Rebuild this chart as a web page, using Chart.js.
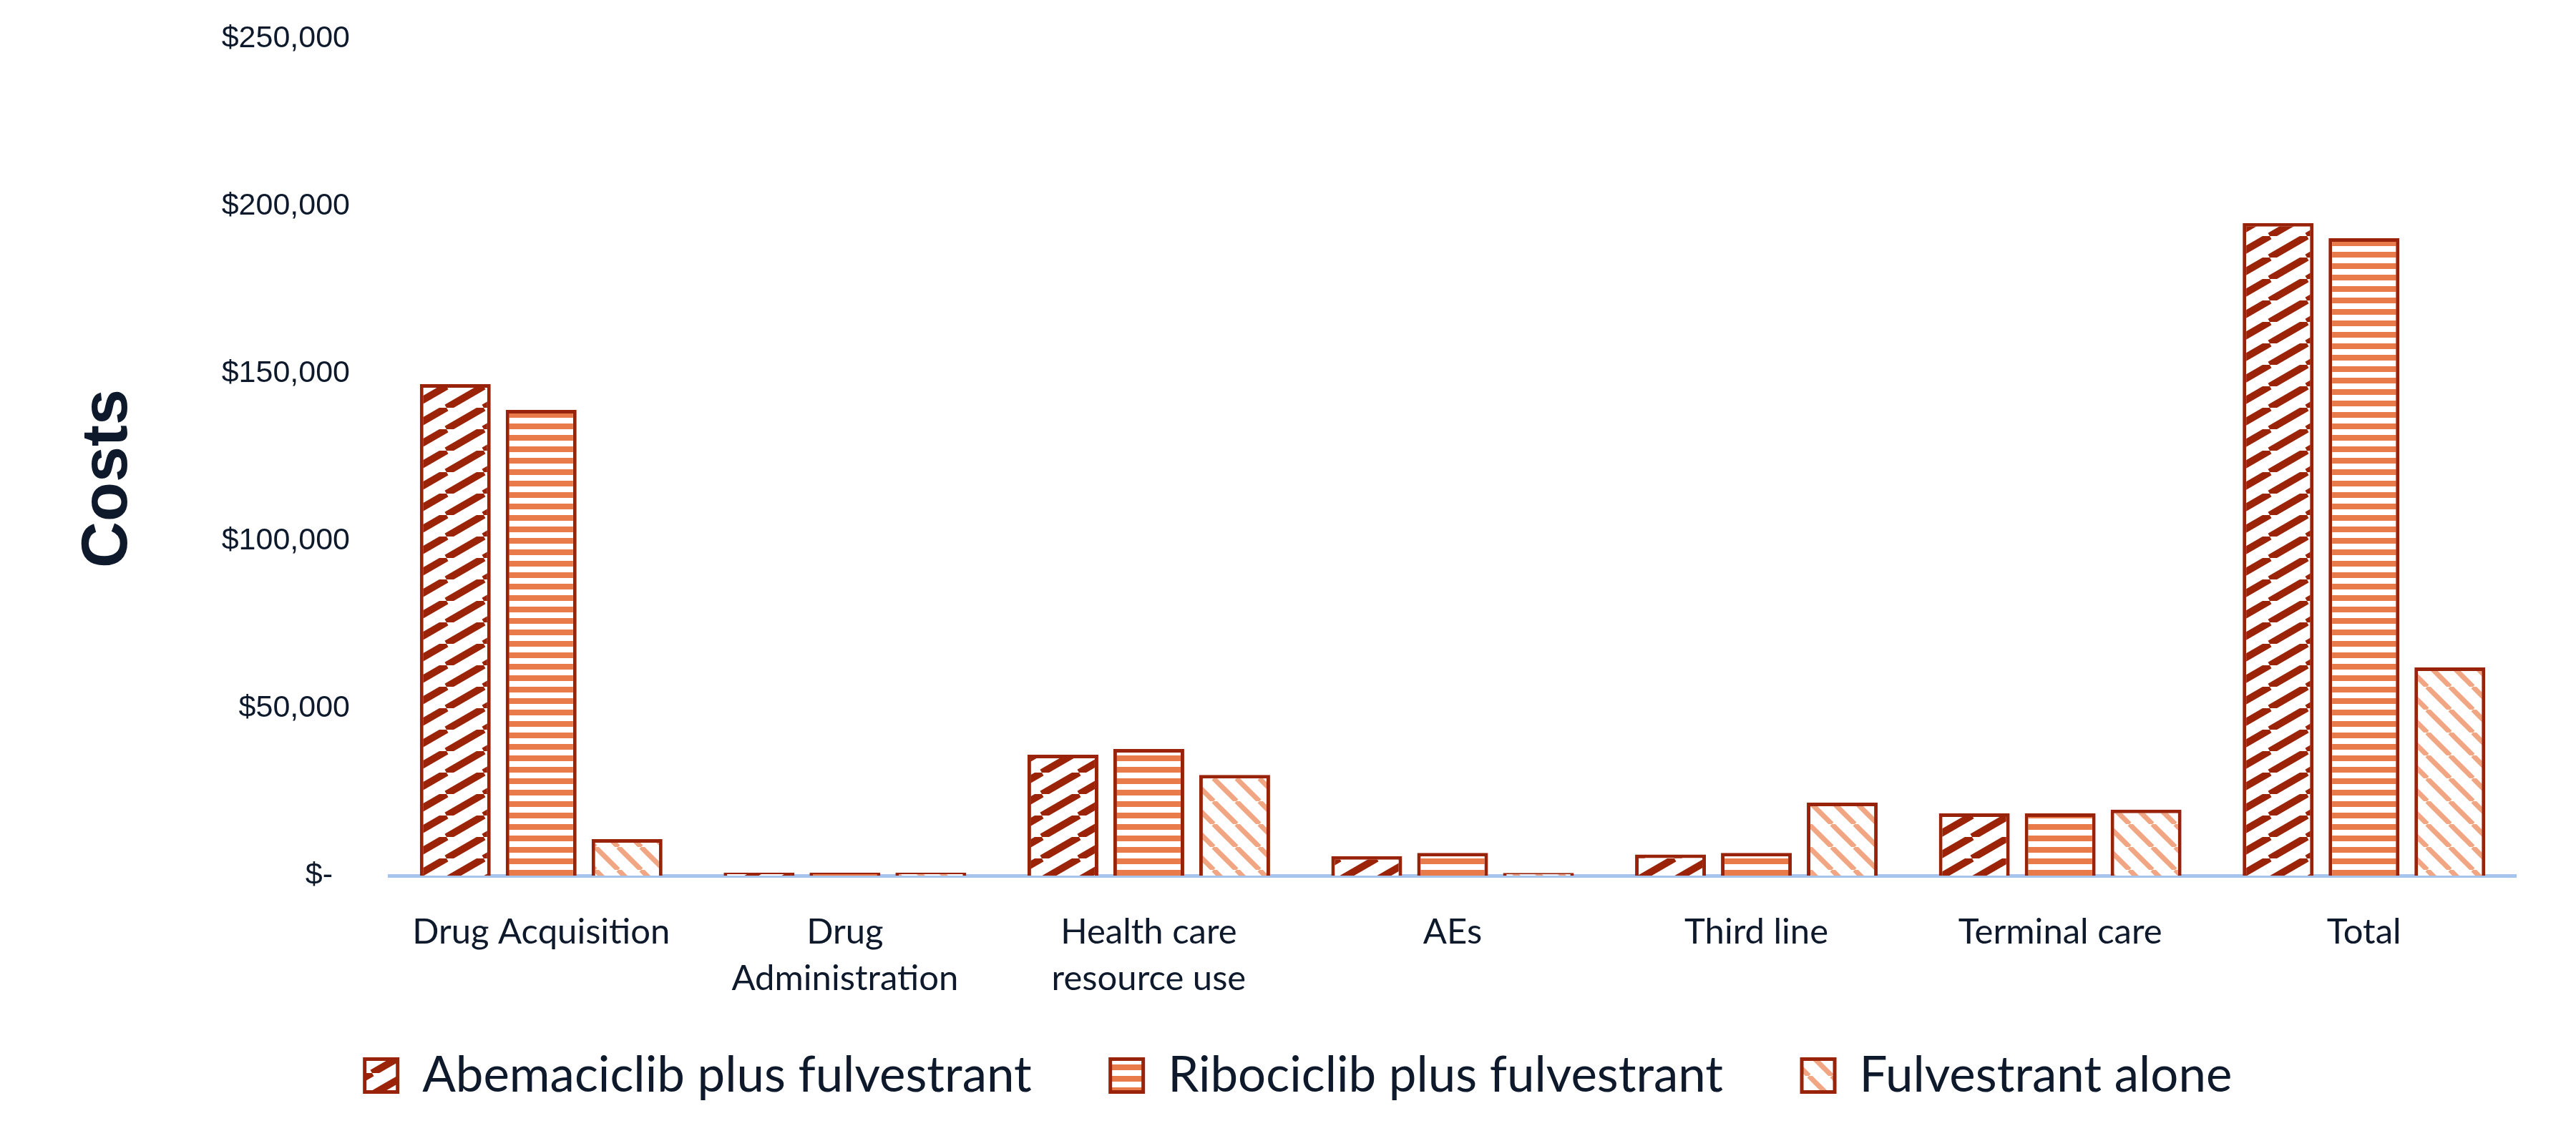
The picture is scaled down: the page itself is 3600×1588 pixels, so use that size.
<!DOCTYPE html>
<html>
<head>
<meta charset="utf-8">
<script src="https://cdn.jsdelivr.net/npm/chart.js@4/dist/chart.umd.min.js"></script>
<style>
  html, body { margin:0; padding:0; background:#fff; }
  #wrap { width:3600px; height:1588px; position:relative; }
</style>
</head>
<body>
<div id="wrap"><canvas id="chartCosts"></canvas></div>
<script>
// data
const categories = ['Drug Acquisition', ['Drug', 'Administration'], ['Health care', 'resource use'], 'AEs', 'Third line', 'Terminal care', 'Total'];
const seriesNames = ['Abemaciclib plus fulvestrant', 'Ribociclib plus fulvestrant', 'Fulvestrant alone'];
const abemaciclib = [146800, 900, 36100, 5800, 6300, 18600, 194900];
const ribociclib  = [139100, 900, 37800, 6800, 6800, 18600, 190400];
const fulvestrant = [10900, 900, 30100, 800, 21800, 19700, 62200];
const yTicks = [0, 50000, 100000, 150000, 200000, 250000];

const TXT = '#0e1a2c';
const EDGE = '#99220a';
const GAP = '   '; // extra room between legend entries

// hatch fills
function hatch(w, h, color, lw, dir){
  const c = document.createElement('canvas');
  c.width = w; c.height = h;
  const g = c.getContext('2d');
  g.fillStyle = '#fff'; g.fillRect(0,0,w,h);
  g.strokeStyle = color; g.lineWidth = lw;
  for (const dx of [-w, 0, w]){
    g.beginPath();
    if (dir === 'up'){ g.moveTo(dx, h); g.lineTo(dx + w, 0); }
    else { g.moveTo(dx, 0); g.lineTo(dx + w, h); }
    g.stroke();
  }
  return g.createPattern(c, 'repeat');
}
function stripes(h, band, color){
  const c = document.createElement('canvas');
  c.width = 8; c.height = h;
  const g = c.getContext('2d');
  g.fillStyle = '#fff'; g.fillRect(0,0,8,h);
  g.fillStyle = color; g.fillRect(0,0,8,band);
  return g.createPattern(c, 'repeat');
}

const fillAbem = hatch(52, 30, '#9b2308', 10, 'up');
const fillRibo = stripes(16, 8, '#e97a4a');
const fillFulv = hatch(32, 32, '#f0a583', 7, 'down');

const barOpts = { borderColor:EDGE, borderWidth:5, categoryPercentage:.848, barPercentage:.825 };

const fmtMoney = (v)=> v === 0 ? '$-  ' : '$' + v.toLocaleString('en-US');

new Chart(document.getElementById('chartCosts').getContext('2d'), {
  type:'bar',
  data:{
    labels: categories,
    datasets:[
      { label:seriesNames[0], data:abemaciclib, backgroundColor:fillAbem, ...barOpts },
      { label:seriesNames[1], data:ribociclib,  backgroundColor:fillRibo, ...barOpts },
      { label:seriesNames[2], data:fulvestrant, backgroundColor:fillFulv, ...barOpts }
    ]
  },
  options:{
    responsive:true, maintainAspectRatio:false, animation:false, devicePixelRatio:1,
    layout:{ padding:{ top:54, right:84, bottom:40, left:166 } },
    plugins:{
      tooltip:{ enabled:false },
      legend:{
        position:'bottom',
        labels:{
          color:TXT, boxWidth:46, boxHeight:46, padding:57,
          font:{ family:'Lato, "Noto Sans", sans-serif', size:69 },
          generateLabels(chart){
            const items = Chart.defaults.plugins.legend.labels.generateLabels(chart);
            items.forEach(it=> it.text = it.text + GAP);
            return items;
          }
        }
      }
    },
    scales:{
      x:{
        z:1,
        grid:{ display:false, drawTicks:false },
        border:{ display:true, color:'#a7c5ec', width:5 },
        ticks:{ color:TXT, padding:46, maxRotation:0, autoSkip:false, font:{ family:'Lato, "Noto Sans", sans-serif', size:49, lineHeight:1.34 } },
        afterFit(scale){ scale.height = 188; }
      },
      y:{
        min:0, max:250000,
        afterBuildTicks(scale){ scale.ticks = yTicks.map(v=>({ value:v })); },
        grid:{ display:false, drawTicks:false },
        border:{ display:false },
        ticks:{ color:TXT, padding:55, callback:(v)=> fmtMoney(v), font:{ family:'"Liberation Sans", Arial, sans-serif', size:43 } },
        title:{ display:true, text:'Costs', color:TXT, padding:{ top:-68, bottom:0 }, font:{ family:'"Liberation Sans", Arial, sans-serif', size:90, weight:'bold' } },
        afterFit(scale){
          scale.width = 378; scale.paddingTop = 0; scale.paddingBottom = 0;
          // title sits a little below the middle of the axis in the original
          if (!scale._titleMoved){
            const draw = scale.drawTitle;
            scale.drawTitle = function(){ this.ctx.save(); this.ctx.translate(0, 30); draw.call(this); this.ctx.restore(); };
            scale._titleMoved = true;
          }
        }
      }
    }
  }
});
</script>
</body>
</html>
